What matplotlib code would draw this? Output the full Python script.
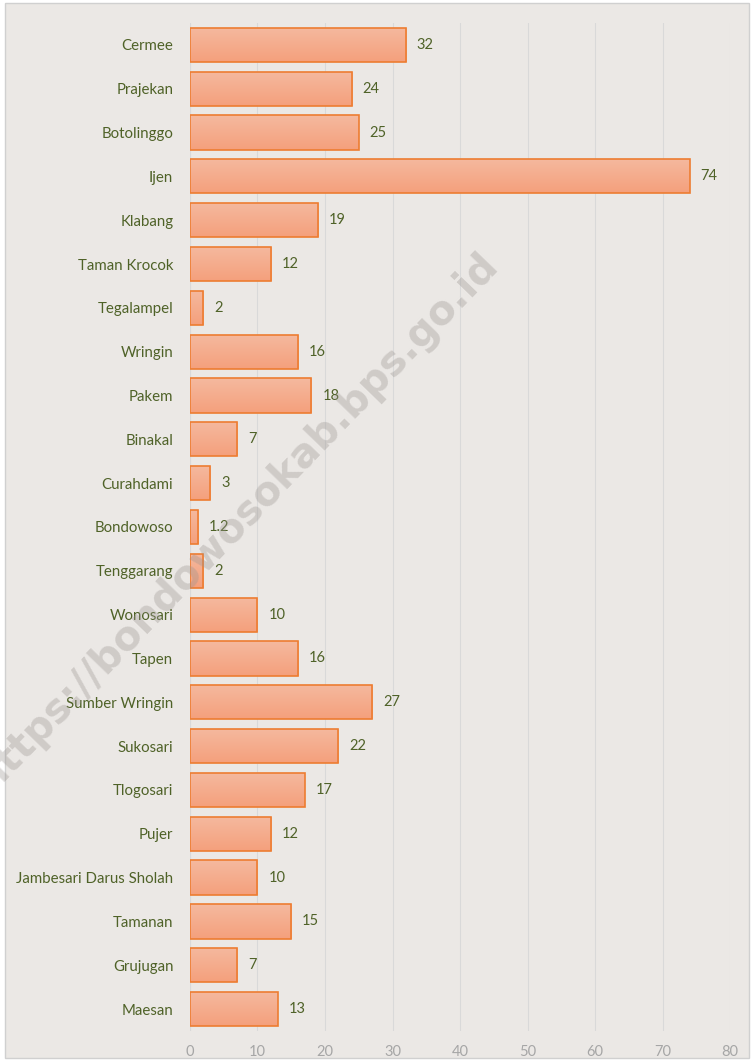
import numpy as np
import matplotlib.pyplot as plt
from matplotlib.patches import Rectangle
from matplotlib.colors import LinearSegmentedColormap

# Data (top to bottom as shown)
kecamatan = ["Cermee", "Prajekan", "Botolinggo", "Ijen", "Klabang", "Taman Krocok",
             "Tegalampel", "Wringin", "Pakem", "Binakal", "Curahdami", "Bondowoso",
             "Tenggarang", "Wonosari", "Tapen", "Sumber Wringin", "Sukosari",
             "Tlogosari", "Pujer", "Jambesari Darus Sholah", "Tamanan", "Grujugan",
             "Maesan"]
nilai = [32, 24, 25, 74, 19, 12, 2, 16, 18, 7, 3, 1.2, 2, 10, 16, 27, 22, 17, 12,
         10, 15, 7, 13]
xticks = [0, 10, 20, 30, 40, 50, 60, 70, 80]

bg = "#ebe8e5"
green = "#4f6228"
plt.rcParams['font.family'] = ['Lato', 'DejaVu Sans']

fig = plt.figure(figsize=(7.53, 10.61), dpi=100, facecolor="white")
fig.patches.append(Rectangle((0.007, 0.003), 0.988, 0.994, transform=fig.transFigure,
                             facecolor=bg, edgecolor="#d0d0d0", linewidth=1, zorder=-10))
ax = fig.add_axes([0.2523, 0.0283, 0.7172, 0.95])
ax.set_facecolor("none")

y = np.arange(len(kecamatan))
bars = ax.barh(y, nilai, height=0.78, color="none", edgecolor="#ed7d31",
               linewidth=1.2, zorder=3)

# gradient fill inside each bar
grad = np.linspace(0, 1, 64).reshape(-1, 1)
cmap = LinearSegmentedColormap.from_list("salmon", ["#f5b99f", "#f4a07c"])
for b in bars:
    x0, y0 = b.get_x(), b.get_y()
    w, h = b.get_width(), b.get_height()
    im = ax.imshow(grad, extent=[x0, x0 + w, y0 + h, y0], cmap=cmap, aspect="auto",
                   zorder=2, interpolation="bilinear")
    im.set_clip_path(b)

for yi, v in zip(y, nilai):
    lab = str(v) if v != int(v) else str(int(v))
    ax.text(v + 1.6, yi, lab, va="center", ha="left", fontsize=10.5, color=green, zorder=4)

ax.set_yticks(y)
ax.set_yticklabels(kecamatan, fontsize=10.8, color=green)
ax.set_ylim(len(kecamatan) - 0.5, -0.5)
ax.set_xlim(0, 80)
ax.set_xticks(xticks)
ax.tick_params(axis="x", colors="#a6a6a6", labelsize=10.5, length=0, pad=10)
ax.tick_params(axis="y", length=0, pad=12)
for lbl in ax.get_xticklabels():
    lbl.set_color("#a6a6a6")
ax.grid(axis="x", color="#d9d9d9", linewidth=0.8, zorder=0)
for s in ax.spines.values():
    s.set_visible(False)
ax.axvline(0, color="#d9d9d9", linewidth=0.8, zorder=1)

# watermark
fig.text(0.315, 0.508, "https://bondowosokab.bps.go.id", rotation=46, fontsize=29,
         fontweight="bold", color="#9a9490", alpha=0.35, ha="center", va="center",
         family="DejaVu Sans", zorder=10)

fig.savefig("out.png", dpi=100, facecolor="white")
